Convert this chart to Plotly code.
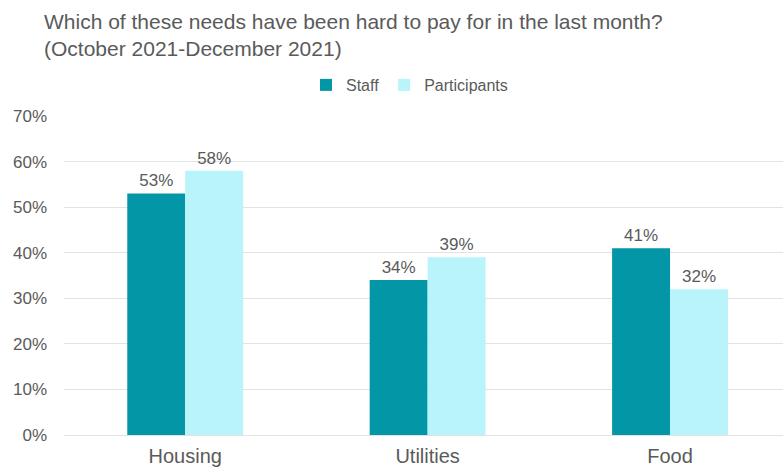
import plotly.graph_objects as go

categories = ["Housing", "Utilities", "Food"]
staff = [53, 34, 41]
participants = [58, 39, 32]
y_ticks = [0, 10, 20, 30, 40, 50, 60, 70]
y_tick_labels = [f"{v}%" for v in y_ticks]

TEXT = "#5A5A5A"
FONT = "Liberation Sans, Arial, sans-serif"

fig = go.Figure()
fig.add_trace(go.Bar(
    name="Staff", x=categories, y=staff,
    marker=dict(color="#0396A6", line=dict(width=0)),
    text=[f"{v}%" for v in staff], textposition="outside",
    textfont=dict(size=17, color=TEXT, family=FONT), cliponaxis=False,
))
fig.add_trace(go.Bar(
    name="Participants", x=categories, y=participants,
    marker=dict(color="#B8F4FA", line=dict(width=0)),
    text=[f"{v}%" for v in participants], textposition="outside",
    textfont=dict(size=17, color=TEXT, family=FONT), cliponaxis=False,
))

fig.add_annotation(
    text="Which of these needs have been hard to pay for in the last month?<br>(October 2021-December 2021)",
    xref="paper", yref="paper", x=-22 / 719, y=1 + 108 / 319,
    xanchor="left", yanchor="top", align="left", showarrow=False,
    font=dict(size=21, color=TEXT, family=FONT),
)

fig.update_layout(
    width=783, height=469,
    margin=dict(l=64, r=0, t=116, b=34),
    paper_bgcolor="white", plot_bgcolor="white",
    font=dict(family=FONT, color=TEXT),
    barmode="group", bargap=0.522, bargroupgap=0,
    legend=dict(
        orientation="h", xref="container", yref="container",
        x=306 / 783, xanchor="left", y=1 - 85 / 469, yanchor="middle",
        font=dict(size=16, color=TEXT, family=FONT),
        itemwidth=30, traceorder="normal", tracegroupgap=0,
    ),
    showlegend=True,
)
fig.update_xaxes(
    range=[-0.5, 2.466], showgrid=False, showline=False, zeroline=False,
    automargin=False,
    ticks="", tickfont=dict(size=20, color=TEXT, family=FONT),
    ticklabelstandoff=7,
)
fig.update_yaxes(
    range=[0, 70], tickvals=y_ticks, ticktext=y_tick_labels,
    automargin=False,
    showgrid=True, gridcolor="#E3E3E3", gridwidth=1,
    zeroline=True, zerolinecolor="#E3E3E3", zerolinewidth=1,
    showline=False, ticks="", ticklabelstandoff=16,
    tickfont=dict(size=17, color=TEXT, family=FONT),
)

fig.write_html("out.html")
